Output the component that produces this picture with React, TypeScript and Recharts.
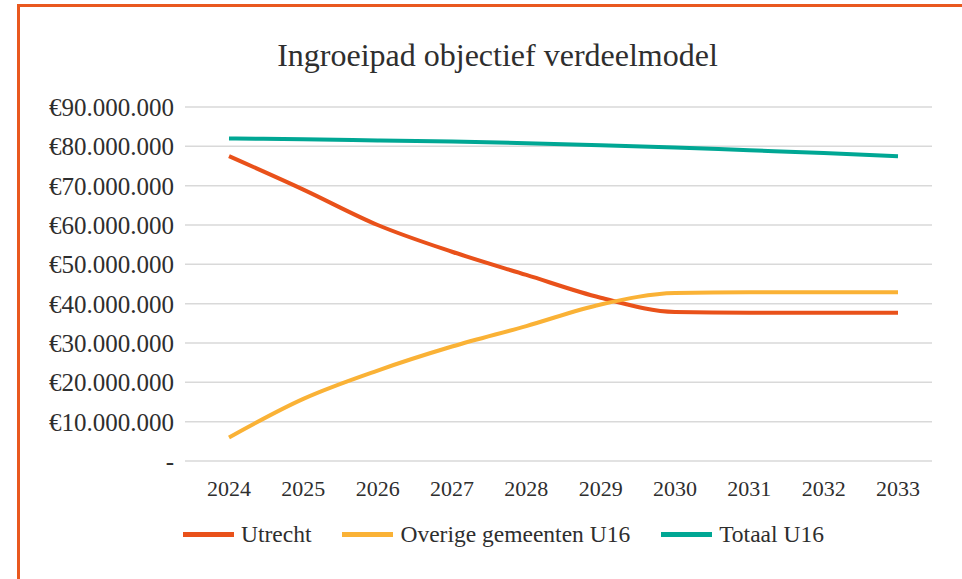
import { CartesianGrid, Legend, Line, LineChart, XAxis, YAxis } from 'recharts'

const years = ['2024', '2025', '2026', '2027', '2028', '2029', '2030', '2031', '2032', '2033']
const utrecht = [77500000, 69000000, 60000000, 53200000, 47300000, 41500000, 37900000, 37700000, 37700000, 37700000]
const overige = [6000000, 15800000, 23000000, 29100000, 34300000, 39800000, 42700000, 42900000, 42900000, 42900000]
const totaal = [82000000, 81800000, 81500000, 81200000, 80800000, 80300000, 79700000, 79000000, 78300000, 77500000]
const yTicks = [0, 10000000, 20000000, 30000000, 40000000, 50000000, 60000000, 70000000, 80000000, 90000000]

const FONT = "'Liberation Serif', 'Times New Roman', serif"
const TEXT = '#2e2e2e'

const SERIES = [
  { key: 'utrecht', name: 'Utrecht', color: '#E9511A' },
  { key: 'overige', name: 'Overige gemeenten U16', color: '#FAB236' },
  { key: 'totaal', name: 'Totaal U16', color: '#00A794' },
]

const data = years.map((year, i) => ({
  year,
  utrecht: utrecht[i],
  overige: overige[i],
  totaal: totaal[i],
}))

const fmtEuro = (v: number) => {
  if (v === 0) return '-'
  return '€' + String(v).replace(/\B(?=(\d{3})+(?!\d))/g, '.')
}

export default function App() {
  return (
    <div style={{ position: 'absolute', left: 0, top: 0, width: 962, height: 579, overflow: 'hidden', background: '#fff', fontFamily: FONT }}>
      <div
        style={{
          position: 'absolute',
          left: 17,
          top: 4,
          width: 1000,
          height: 700,
          border: '3px solid #E9581F',
          boxSizing: 'border-box',
        }}
      />
      <div
        style={{
          position: 'absolute',
          left: 0,
          top: 37,
          width: 995,
          textAlign: 'center',
          fontSize: 32,
          color: TEXT,
        }}
      >
        Ingroeipad objectief verdeelmodel
      </div>
      <div style={{ position: 'absolute', left: 0, top: 0 }}>
        <LineChart width={962} height={579} data={data} margin={{ top: 107, right: 30, bottom: 88, left: 0 }}>
          <CartesianGrid vertical={false} stroke="#d9d9d9" strokeWidth={1.5} />
          <XAxis
            dataKey="year"
            axisLine={false}
            tickLine={false}
            padding={{ left: 44, right: 34 }}
            tickMargin={13}
            tick={{ fill: TEXT, fontSize: 22, fontFamily: FONT }}
            interval={0}
          />
          <YAxis
            width={185}
            domain={[0, 90000000]}
            ticks={yTicks}
            axisLine={false}
            tickLine={false}
            tickMargin={5}
            tickFormatter={fmtEuro}
            tick={{ fill: TEXT, fontSize: 25, fontFamily: FONT }}
            interval={0}
          />
          {SERIES.map((s) => (
            <Line
              key={s.key}
              type="monotone"
              dataKey={s.key}
              name={s.name}
              stroke={s.color}
              strokeWidth={4}
              dot={false}
              activeDot={false}
              isAnimationActive={false}
            />
          ))}
          <Legend
            layout="horizontal"
            verticalAlign="middle"
            align="center"
            wrapperStyle={{ left: 183, top: 521, width: 770 }}
            content={() => (
              <div style={{ display: 'flex', alignItems: 'center', fontSize: 23.5, color: TEXT, fontFamily: FONT }}>
                {SERIES.map((s) => (
                  <div key={s.key} style={{ display: 'flex', alignItems: 'center', marginRight: 31 }}>
                    <span style={{ display: 'inline-block', width: 51, height: 5, background: s.color, marginRight: 7 }} />
                    <span>{s.name}</span>
                  </div>
                ))}
              </div>
            )}
          />
        </LineChart>
      </div>
    </div>
  )
}
